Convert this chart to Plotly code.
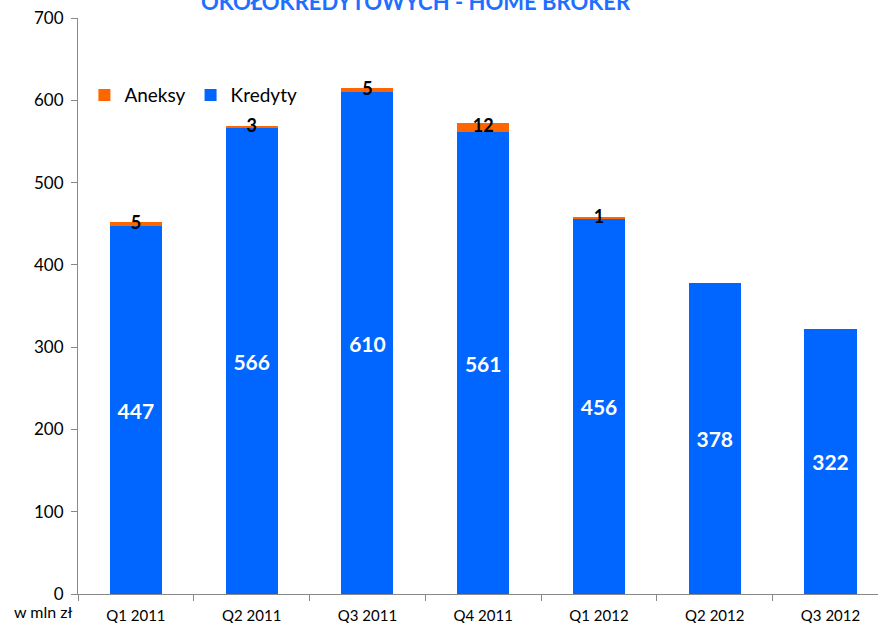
import plotly.graph_objects as go

categories = ["Q1 2011", "Q2 2011", "Q3 2011", "Q4 2011", "Q1 2012", "Q2 2012", "Q3 2012"]
kredyty = [447, 566, 610, 561, 456, 378, 322]
aneksy = [5, 3, 5, 12, 1, 0, 0]
y_ticks = [0, 100, 200, 300, 400, 500, 600, 700]

FONT = "Lato, Carlito, Calibri, sans-serif"
BLUE = "#0066FF"
ORANGE = "#FF6600"

fig = go.Figure()
fig.add_trace(go.Bar(
    x=categories, y=kredyty, name="Kredyty", marker=dict(color=BLUE, line=dict(width=0)),
    width=0.45, text=[str(v) for v in kredyty], textposition="inside",
    insidetextanchor="middle", textangle=0,
    textfont=dict(color="white", size=21, family=FONT, weight="bold"),
))
fig.add_trace(go.Bar(
    x=categories, y=aneksy, name="Aneksy", marker=dict(color=ORANGE, line=dict(width=0)),
    width=0.45, hoverinfo="y",
))
lab_x = [c for c, a in zip(categories, aneksy) if a > 0]
lab_y = [k + a / 2 for k, a in zip(kredyty, aneksy) if a > 0]
lab_t = [str(a) for a in aneksy if a > 0]
fig.add_trace(go.Scatter(
    x=lab_x, y=lab_y, text=lab_t, mode="text", showlegend=False,
    textposition="middle center",
    textfont=dict(color="black", size=18, family=FONT, weight="bold"),
))

fig.update_layout(
    width=878, height=623,
    barmode="stack",
    plot_bgcolor="white", paper_bgcolor="white",
    margin=dict(l=78, r=0, t=18, b=29, autoexpand=False),
    font=dict(family=FONT, size=15, color="black"),
    showlegend=True,
    legend=dict(orientation="h", x=0.008, y=0.866, xanchor="left", yanchor="middle",
                traceorder="reversed", font=dict(size=19, family=FONT),
                bgcolor="rgba(0,0,0,0)", itemwidth=30),
    xaxis=dict(range=[-0.5, 6.41], showline=True, linecolor="#888888", linewidth=1,
               ticks="outside", tickson="boundaries", ticklen=6, tickcolor="#888888",
               showgrid=False, tickfont=dict(size=15), automargin=False,
               ticklabelstandoff=8),
    yaxis=dict(range=[0, 700], tickvals=y_ticks, showline=True, linecolor="#888888",
               linewidth=1, ticks="outside", ticklen=6, tickcolor="#888888",
               showgrid=False, zeroline=False, tickfont=dict(size=17), automargin=False,
               ticklabelstandoff=4),
    annotations=[
        dict(text="w mln zł", xref="paper", yref="paper", x=-0.004, y=-0.03,
             xanchor="right", yanchor="middle", showarrow=False, font=dict(size=16)),
        dict(text="<b>OKOŁOKREDYTOWYCH - HOME BROKER</b>", xref="paper", yref="paper",
             x=0.4225, y=1.0295, xanchor="center", yanchor="middle", showarrow=False,
             font=dict(size=22, color="#1F6FFF")),
    ],
)

fig.write_html("out.html", config={"displayModeBar": False},
               post_script="document.body.style.margin='0px';")
